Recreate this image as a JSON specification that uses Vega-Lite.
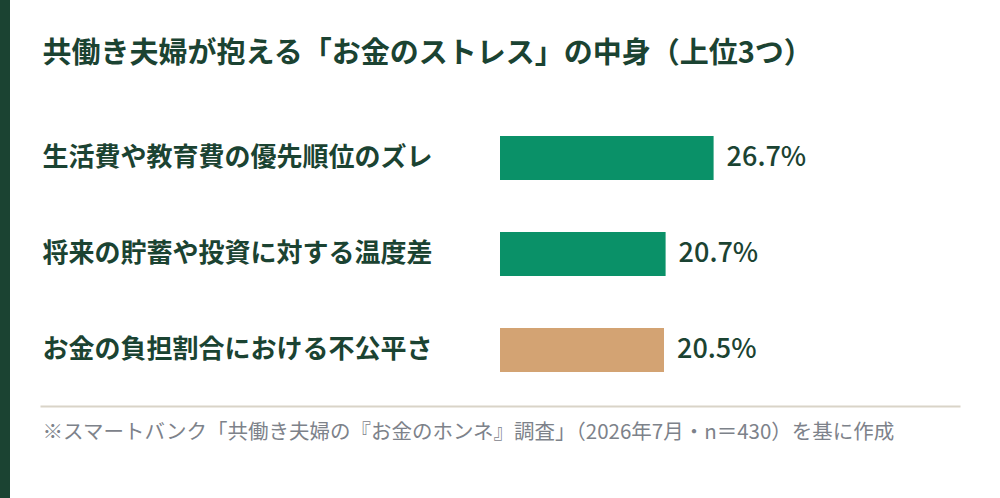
{
  "$schema": "https://vega.github.io/schema/vega-lite/v6.json",
  "width": 955,
  "height": 498,
  "autosize": "none",
  "padding": {"left": 5, "top": 0, "right": 40, "bottom": 0},
  "background": "#ffffff",
  "config": {
    "view": {
      "stroke": "#1b4332",
      "strokeWidth": 10,
      "strokeDash": [0, 2408, 498],
      "fill": null
    },
    "font": "Noto Sans CJK JP"
  },
  "data": {
    "values": [
      {"item": "生活費や教育費の優先順位のズレ", "value": 26.7},
      {"item": "将来の貯蓄や投資に対する温度差", "value": 20.7},
      {"item": "お金の負担割合における不公平さ", "value": 20.5}
    ]
  },
  "transform": [
    {"calculate": "format(datum.value, '.1f') + '%'", "as": "label"}
  ],
  "encoding": {
    "y": {
      "field": "item",
      "type": "nominal",
      "sort": null,
      "scale": {"range": [110, 398], "paddingInner": 0.5417, "paddingOuter": 0.2708},
      "axis": {
        "orient": "left",
        "domain": false,
        "ticks": false,
        "tickSize": 0,
        "labelAlign": "left",
        "labelBaseline": "middle",
        "labelPadding": -37,
        "labelFontSize": 26,
        "labelFontWeight": "bold",
        "labelColor": "#1b4332",
        "labelLimit": 700,
        "labelOverlap": false,
        "title": "共働き夫婦が抱える「お金のストレス」の中身（上位3つ）",
        "titleAngle": 0,
        "titleX": 37,
        "titleY": 53,
        "titleAlign": "left",
        "titleBaseline": "middle",
        "titleFontSize": 29,
        "titleFontWeight": "bold",
        "titleColor": "#1b4332"
      }
    }
  },
  "layer": [
    {
      "mark": {"type": "bar"},
      "encoding": {
        "x": {
          "field": "value",
          "type": "quantitative",
          "scale": {"domain": [-61.875, 57.5], "nice": false, "zero": false},
          "axis": {
            "orient": "bottom",
            "offset": -92,
            "domainWidth": 2,
            "domainColor": "#d9d4c8",
            "domainDash": [0, 35, 920],
            "ticks": false,
            "labels": false,
            "grid": false,
            "title": "※スマートバンク「共働き夫婦の『お金のホンネ』調査」（2026年7月・n＝430）を基に作成",
            "titleX": 37,
            "titleY": 26,
            "titleAlign": "left",
            "titleBaseline": "middle",
            "titleFontSize": 20.5,
            "titleFontWeight": "normal",
            "titleColor": "#7d828a"
          }
        },
        "x2": {"datum": 0},
        "color": {
          "field": "item",
          "type": "nominal",
          "scale": {
            "domain": ["生活費や教育費の優先順位のズレ", "将来の貯蓄や投資に対する温度差", "お金の負担割合における不公平さ"],
            "range": ["#0a9168", "#0a9168", "#d3a373"]
          },
          "legend": null
        }
      }
    },
    {
      "mark": {
        "type": "text",
        "align": "left",
        "baseline": "middle",
        "dx": 13,
        "fontSize": 27,
        "fontWeight": 500,
        "color": "#1b4332"
      },
      "encoding": {
        "x": {"field": "value", "type": "quantitative"},
        "text": {"field": "label"}
      }
    }
  ]
}
